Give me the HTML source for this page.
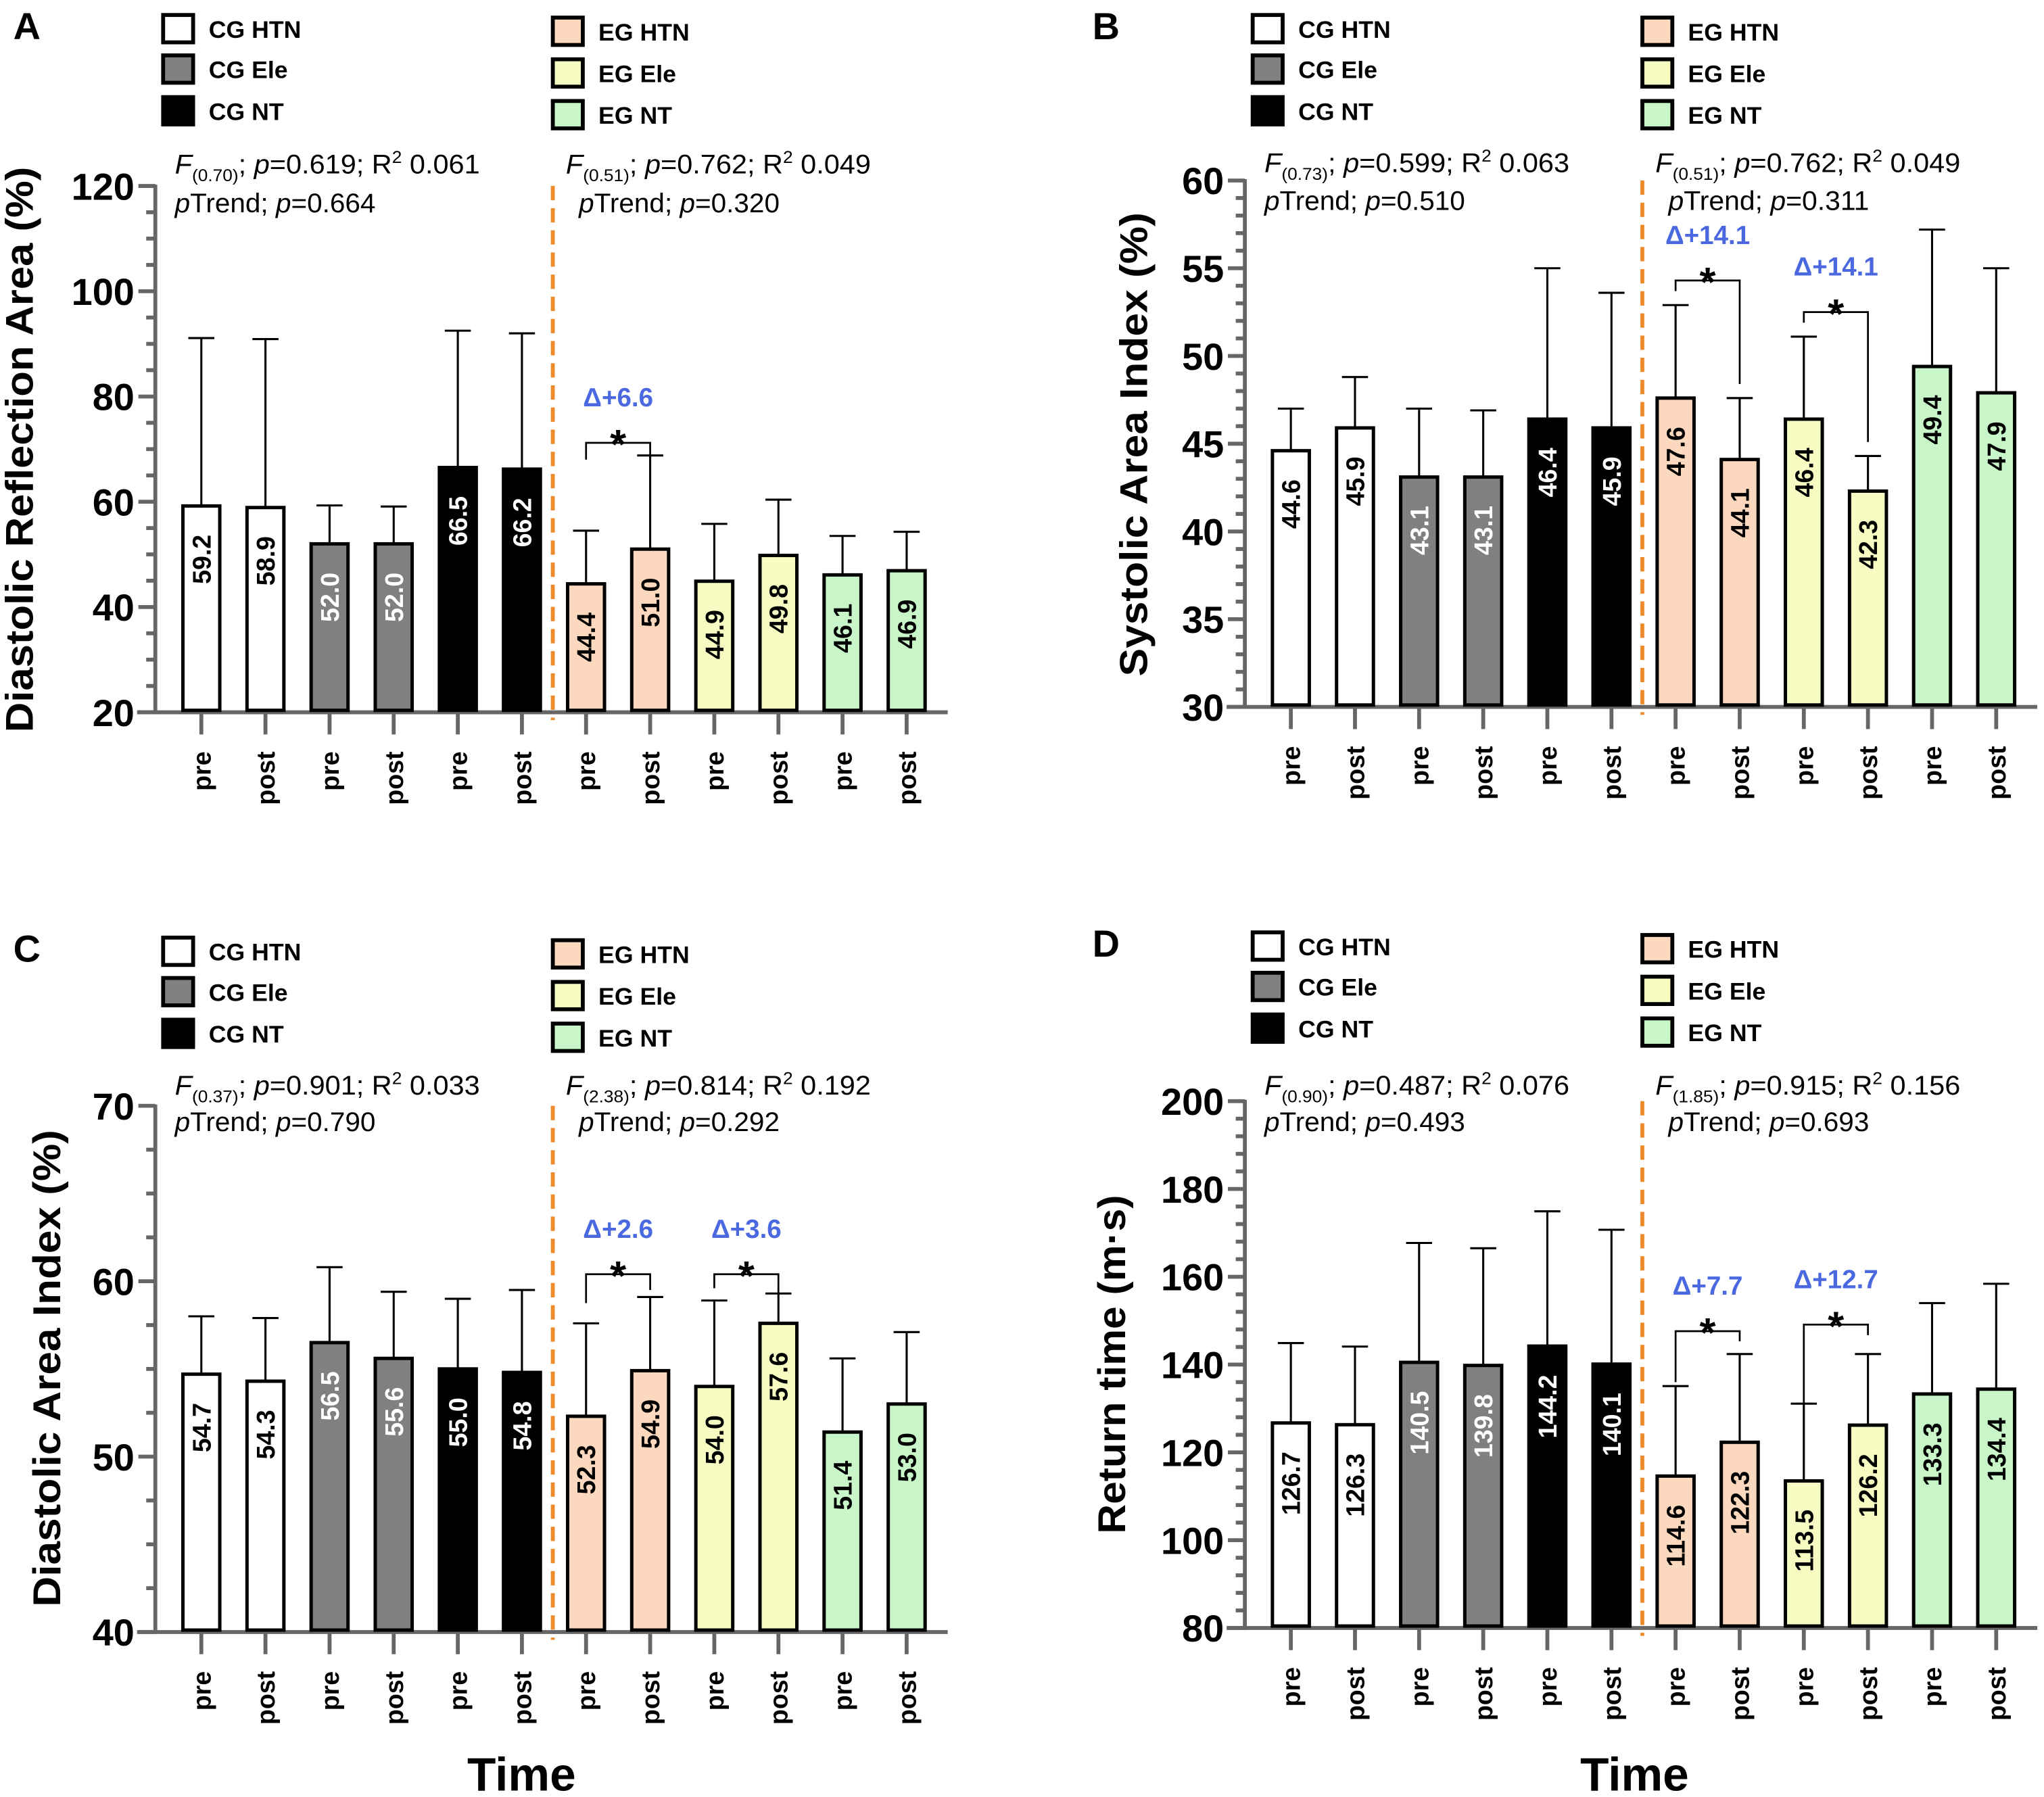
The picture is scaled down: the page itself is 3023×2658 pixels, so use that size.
<!DOCTYPE html>
<html><head><meta charset="utf-8"><style>
html,body{margin:0;padding:0;background:#fff;}
svg{display:block;font-family:"Liberation Sans",Arial,sans-serif;}
</style></head><body>
<svg id="fig" width="3023" height="2658" viewBox="0 0 1568 1379" xmlns="http://www.w3.org/2000/svg"></svg>
<script>
const categories = ['pre','post','pre','post','pre','post','pre','post','pre','post','pre','post'];
const groupNames = ['CG HTN','CG HTN','CG Ele','CG Ele','CG NT','CG NT','EG HTN','EG HTN','EG Ele','EG Ele','EG NT','EG NT'];
const meansA = [59.2,58.9,52.0,52.0,66.5,66.2,44.4,51.0,44.9,49.8,46.1,46.9];
const errTopA = [91.1,90.9,59.3,59.1,92.5,92.0,54.5,68.8,55.8,60.4,53.5,54.3];
const meansB = [44.6,45.9,43.1,43.1,46.4,45.9,47.6,44.1,46.4,42.3,49.4,47.9];
const errTopB = [47.0,48.8,47.0,46.9,55.0,53.6,52.9,47.6,51.1,44.3,57.2,55.0];
const meansC = [54.7,54.3,56.5,55.6,55.0,54.8,52.3,54.9,54.0,57.6,51.4,53.0];
const errTopC = [58.0,57.9,60.8,59.4,59.0,59.5,57.6,59.1,58.9,59.3,55.6,57.1];
const meansD = [126.7,126.3,140.5,139.8,144.2,140.1,114.6,122.3,113.5,126.2,133.3,134.4];
const errTopD = [144.9,144.1,167.7,166.5,174.9,170.7,135.1,142.4,131.1,142.4,154.0,158.4];
const ticksA = [20,40,60,80,100,120];
const ticksB = [30,35,40,45,50,55,60];
const ticksC = [40,50,60,70];
const ticksD = [80,100,120,140,160,180,200];
const bracketsA = [{i:6,j:7,y:71.2,yl:68.0,yr:68.8,label:'Δ+6.6'}];
const bracketsB = [{i:6,j:7,y:54.3,yl:53.7,yr:48.4,label:'Δ+14.1'},{i:8,j:9,y:52.5,yl:51.9,yr:45.1,label:'Δ+14.1'}];
const bracketsC = [{i:6,j:7,y:60.4,yl:58.75,yr:59.5,label:'Δ+2.6'},{i:8,j:9,y:60.4,yl:59.6,yr:59.3,label:'Δ+3.6'}];
const bracketsD = [{i:6,j:7,y:147.6,yl:136,yr:145.3,label:'Δ+7.7'},{i:8,j:9,y:149.1,yl:131.3,yr:146.7,label:'Δ+12.7'}];
const statsA = [['0.70','0.619','0.061','0.664'],['0.51','0.762','0.049','0.320']];
const statsB = [['0.73','0.599','0.063','0.510'],['0.51','0.762','0.049','0.311']];
const statsC = [['0.37','0.901','0.033','0.790'],['2.38','0.814','0.192','0.292']];
const statsD = [['0.90','0.487','0.076','0.493'],['1.85','0.915','0.156','0.693']];

const NS='http://www.w3.org/2000/svg';
const svg=document.getElementById('fig');
const fills=['#ffffff','#ffffff','#808080','#808080','#000000','#000000','#fcd9be','#fcd9be','#f6fcc2','#f6fcc2','#c8f6c8','#c8f6c8'];
const labelColors=['#000','#000','#fff','#fff','#fff','#fff','#000','#000','#000','#000','#000','#000'];
function mk(tag,attrs,parent){const e=document.createElementNS(NS,tag);for(const k in attrs)e.setAttribute(k,attrs[k]);(parent||svg).appendChild(e);return e;}

function panel(cfg){
  const g=mk('g',{});
  
  
  const ox=cfg.ox, ly=cfg.ly;
  const y0=cfg.ymin,y1=cfg.ymax,pt=cfg.top,pb=cfg.bottom;
  const yS=v=>pb-(v-y0)/(y1-y0)*(pb-pt);
  const ax=119+ox;
  const xS=i=>ax+35.3+i*49.2;
  const bw=28.3;
  const L=mk('text',{x:10+ox+cfg.lx,y:ly+30,'font-size':29,'font-weight':'bold'},g);L.textContent=cfg.letter;
  
  
  const legs=[['CG HTN','#ffffff',0,10],['CG Ele','#808080',0,41],['CG NT','#000000',0,73],['EG HTN','#fcd9be',299,12],['EG Ele','#f6fcc2',299,44],['EG NT','#c8f6c8',299,76]];
  legs.forEach(l=>{
    const lg=mk('g',{},g);
    
    
    mk('rect',{x:125+ox+l[2],y:ly+l[3]+1.5,width:23,height:21,fill:l[1],stroke:'#000','stroke-width':3},lg);
    const t=mk('text',{x:160+ox+l[2],y:ly+l[3]+19,'font-size':18.5,'font-weight':'bold'},lg);t.textContent=l[0];
  });
  const axis=mk('g',{stroke:'#666','stroke-width':3},g);
  
  
  mk('line',{x1:ax,y1:pt-1,x2:ax,y2:pb+1.5},axis);
  const ticks=cfg.ticks;
  for(let k=0;k<ticks.length;k++){
    mk('line',{x1:ax-13,y1:yS(ticks[k]),x2:ax,y2:yS(ticks[k])},axis);
    if(k<ticks.length-1){
      for(let m=1;m<cfg.minor;m++){
        const v=ticks[k]+(ticks[k+1]-ticks[k])*m/cfg.minor;
        mk('line',{x1:ax-7,y1:yS(v),x2:ax,y2:yS(v)},axis);
      }
    }
    const tl=mk('text',{x:ax-16,y:yS(ticks[k])+10.5,'font-size':29,'font-weight':'bold','text-anchor':'end'},g);
    tl.textContent=ticks[k];
    
    
  }
  const xa=mk('line',{x1:ax-14,y1:pb,x2:ax+608,y2:pb,stroke:'#666','stroke-width':3},g);
  
  
  const yt=mk('text',{transform:`translate(${cfg.ytx+ox},${cfg.yty}) rotate(-90)`,'font-size':30,'font-weight':'bold','text-anchor':'middle',textLength:cfg.ytlen,lengthAdjust:'spacingAndGlyphs'},g);
  yt.textContent=cfg.ytitle;
  
  
  cfg.means.forEach((v,i)=>{
    const cx=xS(i);
    const eb=mk('line',{x1:cx,y1:yS(v),x2:cx,y2:yS(cfg.err[i]),stroke:'#000','stroke-width':1.6},g);
    
    
    mk('line',{x1:cx-10,y1:yS(cfg.err[i]),x2:cx+10,y2:yS(cfg.err[i]),stroke:'#000','stroke-width':1.6},g);
    const r=mk('rect',{x:cx-bw/2,y:yS(v),width:bw,height:pb-yS(v)-1.5,fill:fills[i],stroke:'#000','stroke-width':2.6},g);
    
    
    const vl=mk('text',{transform:`translate(${cx+7},${yS(v)+22}) rotate(-90)`,'font-size':19.5,'font-weight':'bold','text-anchor':'end',fill:labelColors[i]},g);
    vl.textContent=v.toFixed(1);
    
    
    mk('line',{x1:cx,y1:pb,x2:cx,y2:pb+17,stroke:'#666','stroke-width':3},g);
    const xl=mk('text',{transform:`translate(${cx+7},${pb+30}) rotate(-90)`,'font-size':19.5,'font-weight':'bold','text-anchor':'end'},g);
    xl.textContent=categories[i];
    
    
  });
  const dl=mk('line',{x1:424+ox,y1:pt,x2:424+ox,y2:pb+6,stroke:'#ec8a2c','stroke-width':3,'stroke-dasharray':'11 6'},g);
  
  
  const st=cfg.stats;
  [[134,0],[434,1]].forEach(([sx,k],n)=>{
    const s=st[k];
    const t1=mk('text',{x:sx+ox,y:cfg.sty,'font-size':20.5,textLength:234,lengthAdjust:'spacingAndGlyphs'},g);
    t1.innerHTML=`<tspan font-style="italic">F</tspan><tspan font-size="13" dy="6">(${s[0]})</tspan><tspan dy="-6">; </tspan><tspan font-style="italic">p</tspan>=${s[1]}; R<tspan font-size="13" dy="-8">2</tspan><tspan dy="8"> ${s[2]}</tspan>`;
    
    
    const t2=mk('text',{x:sx+ox+(n?10:0),y:cfg.sty+cfg.stg,'font-size':20.5,textLength:154,lengthAdjust:'spacingAndGlyphs'},g);
    t2.innerHTML=`<tspan font-style="italic">p</tspan>Trend; <tspan font-style="italic">p</tspan>=${s[3]}`;
    
    
  });
  cfg.brackets.forEach(b=>{
    const xa1=xS(b.i),xb=xS(b.j),by=yS(b.y);
    const p=mk('path',{d:`M${xa1},${yS(b.yl)} V${by} H${xb} V${yS(b.yr)}`,fill:'none',stroke:'#000','stroke-width':1.4},g);
    
    
    const s=mk('text',{x:(xa1+xb)/2,y:by+12,'font-size':32,'font-weight':'bold','text-anchor':'middle'},g);s.textContent='*';
    
    
    const d=mk('text',{x:(xa1+xb)/2,y:by-28,'font-size':20,'font-weight':'bold','text-anchor':'middle',fill:'#4a68e0'},g);d.textContent=b.label;
    
    
  });
  if(cfg.time){
    const tt=mk('text',{x:cfg.time+ox,y:1374,'font-size':36,'font-weight':'bold','text-anchor':'middle'},g);tt.textContent='Time';
    
    
  }
}
panel({letter:'A',ox:0,lx:0,ly:0,ymin:20,ymax:120,top:142.7,bottom:546.6,ticks:ticksA,minor:4,means:meansA,err:errTopA,brackets:bracketsA,stats:statsA,sty:133,stg:30,ytitle:'Diastolic Reflection Area (%)',ytx:25,yty:345,ytlen:434});
panel({letter:'B',ox:836,lx:-8,ly:0,ymin:30,ymax:60,top:138.5,bottom:542.5,ticks:ticksB,minor:5,means:meansB,err:errTopB,brackets:bracketsB,stats:statsB,sty:132,stg:29,ytitle:'Systolic Area Index (%)',ytx:44,yty:341,ytlen:356});
panel({letter:'C',ox:0,lx:0,ly:708,ymin:40,ymax:70,top:848.6,bottom:1252.4,ticks:ticksC,minor:4,means:meansC,err:errTopC,brackets:bracketsC,stats:statsC,sty:840,stg:28,ytitle:'Diastolic Area Index (%)',ytx:46,yty:1050,ytlen:366,time:400});
panel({letter:'D',ox:836,lx:-8,ly:704,ymin:80,ymax:200,top:845,bottom:1249.3,ticks:ticksD,minor:5,means:meansD,err:errTopD,brackets:bracketsD,stats:statsD,sty:840,stg:28,ytitle:'Return time (m·s)',ytx:27,yty:1047,ytlen:260,time:418});
</script>
</body></html>
